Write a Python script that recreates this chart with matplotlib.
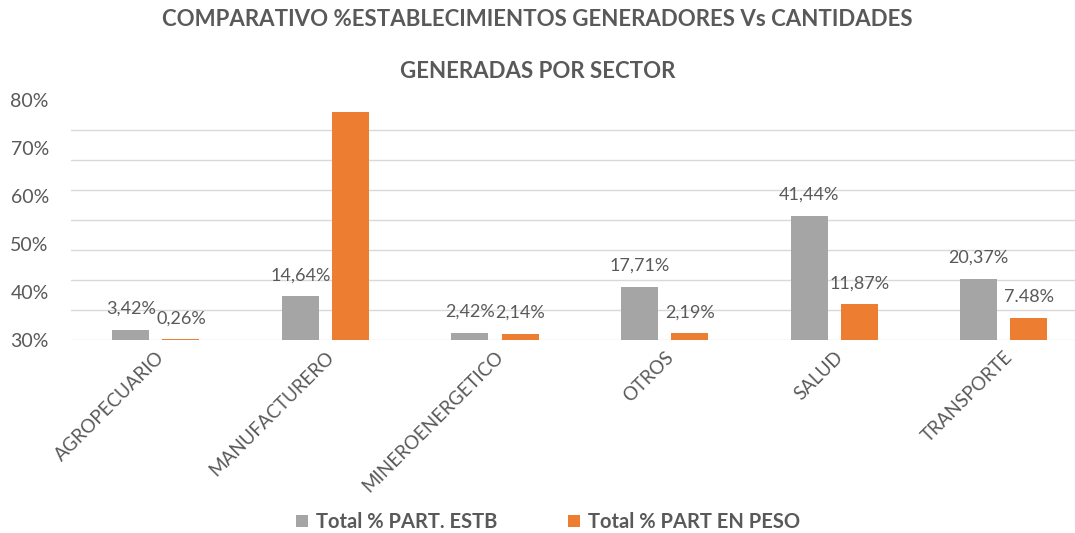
import matplotlib.pyplot as plt
import numpy as np

# datos del grafico
sectores = ["AGROPECUARIO", "MANUFACTURERO", "MINEROENERGETICO", "OTROS", "SALUD", "TRANSPORTE"]
part_estb = [3.42, 14.64, 2.42, 17.71, 41.44, 20.37]
part_peso = [0.26, 76.06, 2.14, 2.19, 11.87, 7.48]
etiquetas_estb = ["3,42%", "14,64%", "2,42%", "17,71%", "41,44%", "20,37%"]
etiquetas_peso = ["0,26%", "", "2,14%", "2,19%", "11,87%", "7.48%"]
ticks_y = [0, 16, 32, 48, 64, 80]
ticks_y_labels = ["30%", "40%", "50%", "60%", "70%", "80%"]
grid_y = [0, 10, 20, 30, 40, 50, 60, 70]

gris = "#A5A5A5"
naranja = "#ED7D31"
texto = "#595959"

plt.rcParams['font.family'] = ['Lato', 'DejaVu Sans']

fig = plt.figure(figsize=(10.75, 5.33), dpi=100)
ax = fig.add_axes([71 / 1075, 193 / 533, 1 - 71 / 1075, 240 / 533])

x = np.arange(len(sectores))
w = 0.218
off = 0.148
b1 = ax.bar(x - off, part_estb, w, color=gris, zorder=3)
b2 = ax.bar(x + off, part_peso, w, color=naranja, zorder=3)

for g in grid_y:
    ax.axhline(g, color="#D9D9D9", lw=1, zorder=1)

for rect, lab in zip(b1, etiquetas_estb):
    ax.annotate(lab, (rect.get_x() + rect.get_width() / 2, rect.get_height()),
                xytext=(0, 15), textcoords="offset points", ha="center", va="center",
                fontsize=13, color=texto)
for rect, lab in zip(b2, etiquetas_peso):
    ax.annotate(lab, (rect.get_x() + rect.get_width() / 2, rect.get_height()),
                xytext=(0, 15), textcoords="offset points", ha="center", va="center",
                fontsize=13, color=texto)

ax.set_xlim(-0.5, 5.42)
ax.set_ylim(0, 80)
ax.set_yticks(ticks_y)
ax.set_yticklabels(ticks_y_labels, fontsize=14, color=texto)
ax.set_xticks(x)
ax.set_xticklabels(sectores, rotation=45, ha="right", rotation_mode="anchor",
                   fontsize=13.5, color=texto)
ax.tick_params(length=0)
ax.tick_params(axis="y", pad=16)
ax.tick_params(axis="x", pad=6)
for s in ax.spines.values():
    s.set_visible(False)

fig.text(0.5, 1 - 20 / 533, "COMPARATIVO %ESTABLECIMIENTOS GENERADORES Vs CANTIDADES",
         ha="center", va="center", fontsize=16, fontweight="bold", color=texto)
fig.text(0.5, 1 - 72 / 533, "GENERADAS POR SECTOR",
         ha="center", va="center", fontsize=16, fontweight="bold", color=texto)

fig.legend([b1, b2], ["Total % PART. ESTB", "Total % PART EN PESO"],
           loc="center", bbox_to_anchor=(0.51, 1 - 522 / 533), ncol=2, frameon=False,
           handlelength=0.6, handleheight=0.6, handletextpad=0.4, columnspacing=3.5,
           prop={"weight": "bold", "size": 14.5}, labelcolor=texto)

fig.savefig("out.png", dpi=100)
